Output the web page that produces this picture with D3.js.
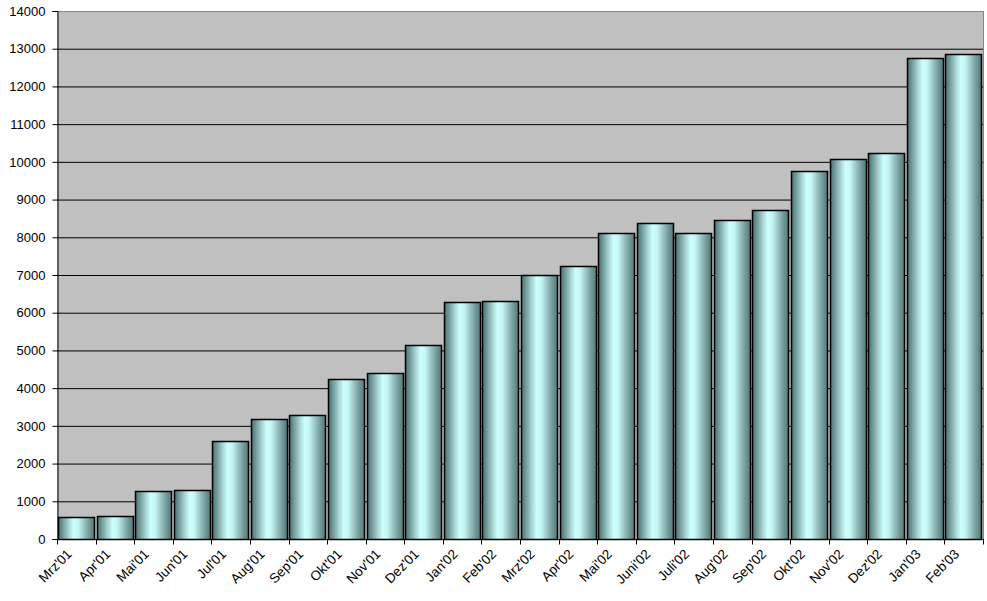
<!DOCTYPE html>
<html><head><meta charset="utf-8">
<script src="https://cdn.jsdelivr.net/npm/d3@7"></script>
<style>body{margin:0;background:#fff;} svg{display:block;font-family:"Liberation Sans",Arial,sans-serif;}</style>
</head><body>
<svg id="c" width="987" height="601"></svg>
<script>
const months = ["Mrz'01","Apr'01","Mai'01","Jun'01","Jul'01","Aug'01","Sep'01","Okt'01","Nov'01","Dez'01","Jan'02","Feb'02","Mrz'02","Apr'02","Mai'02","Juni'02","Juli'02","Aug'02","Sep'02","Okt'02","Nov'02","Dez'02","Jan'03","Feb'03"];
const values = [580,610,1270,1300,2600,3180,3290,4240,4400,5140,6280,6310,7000,7240,8110,8380,8110,8460,8720,9760,10080,10240,12760,12860];
const yTicks = [0,1000,2000,3000,4000,5000,6000,7000,8000,9000,10000,11000,12000,13000,14000];

const svg = d3.select("#c");
const L=57, R=983, T=11, B=539;
const x = d3.scaleBand().domain(months).range([L,R]).paddingInner(0.05).paddingOuter(0.025);
const y = d3.scaleLinear().domain([0,14000]).range([B,T]);

const defs = svg.append("defs");
const g = defs.append("linearGradient").attr("id","cyl").attr("x1","0").attr("x2","1").attr("y1","0").attr("y2","0");
[[0,"#4c7070"],[0.12,"#729a9a"],[0.28,"#a6d2d2"],[0.42,"#ccffff"],[0.55,"#c4f6f6"],[0.72,"#97c1c1"],[0.88,"#6e9494"],[1,"#547878"]]
  .forEach(([o,c])=>g.append("stop").attr("offset",o).attr("stop-color",c));

svg.append("rect").attr("x",L).attr("y",T).attr("width",R-L).attr("height",B-T).attr("fill","#c0c0c0");

svg.append("g").selectAll("line").data(yTicks.filter(d=>d>0 && d<14000)).join("line")
  .attr("x1",L).attr("x2",R).attr("y1",d=>y(d)+0.5).attr("y2",d=>y(d)+0.5).attr("stroke","#000");

svg.append("line").attr("x1",L).attr("x2",R).attr("y1",T+0.5).attr("y2",T+0.5).attr("stroke","#7a8a8a");
svg.append("line").attr("x1",R+0.5).attr("x2",R+0.5).attr("y1",T).attr("y2",B).attr("stroke","#7a8a8a");

svg.append("g").selectAll("rect").data(values).join("rect")
  .attr("x",(d,i)=>Math.round(x(months[i]))+0.5)
  .attr("y",d=>Math.round(y(d))+0.5)
  .attr("width",Math.round(x.bandwidth())-1)
  .attr("height",d=>B-Math.round(y(d)))
  .attr("fill","url(#cyl)").attr("stroke","#000").attr("stroke-width",1.5);

// y axis
const ya = svg.append("g").attr("transform",`translate(${L+0.5},0)`)
  .call(d3.axisLeft(y).tickValues(yTicks).tickSize(5).tickPadding(7).tickFormat(d3.format("d")));
ya.select(".domain").attr("stroke","#000");
ya.selectAll("text").attr("font-size",13).attr("fill","#000").attr("font-family","Liberation Sans, Arial, sans-serif");
ya.selectAll("line").attr("stroke","#000");

// x axis
const xb = d3.scaleLinear().domain([0,months.length]).range([L,R]);
const xa = svg.append("g").attr("transform",`translate(0,${B+0.5})`);
xa.append("line").attr("x1",L).attr("x2",R+1).attr("stroke","#000");
xa.selectAll("line.t").data(d3.range(months.length+1)).join("line").attr("class","t")
  .attr("x1",d=>Math.round(xb(d))+0.5).attr("x2",d=>Math.round(xb(d))+0.5).attr("y1",0).attr("y2",5).attr("stroke","#000");
xa.selectAll("text").data(months).join("text")
  .attr("transform",(d,i)=>`translate(${xb(i+0.5)-7},${12}) rotate(-45)`)
  .attr("text-anchor","end").attr("dy","0.35em").attr("font-size",13.5).attr("fill","#000")
  .text(d=>d);
</script>
</body></html>
